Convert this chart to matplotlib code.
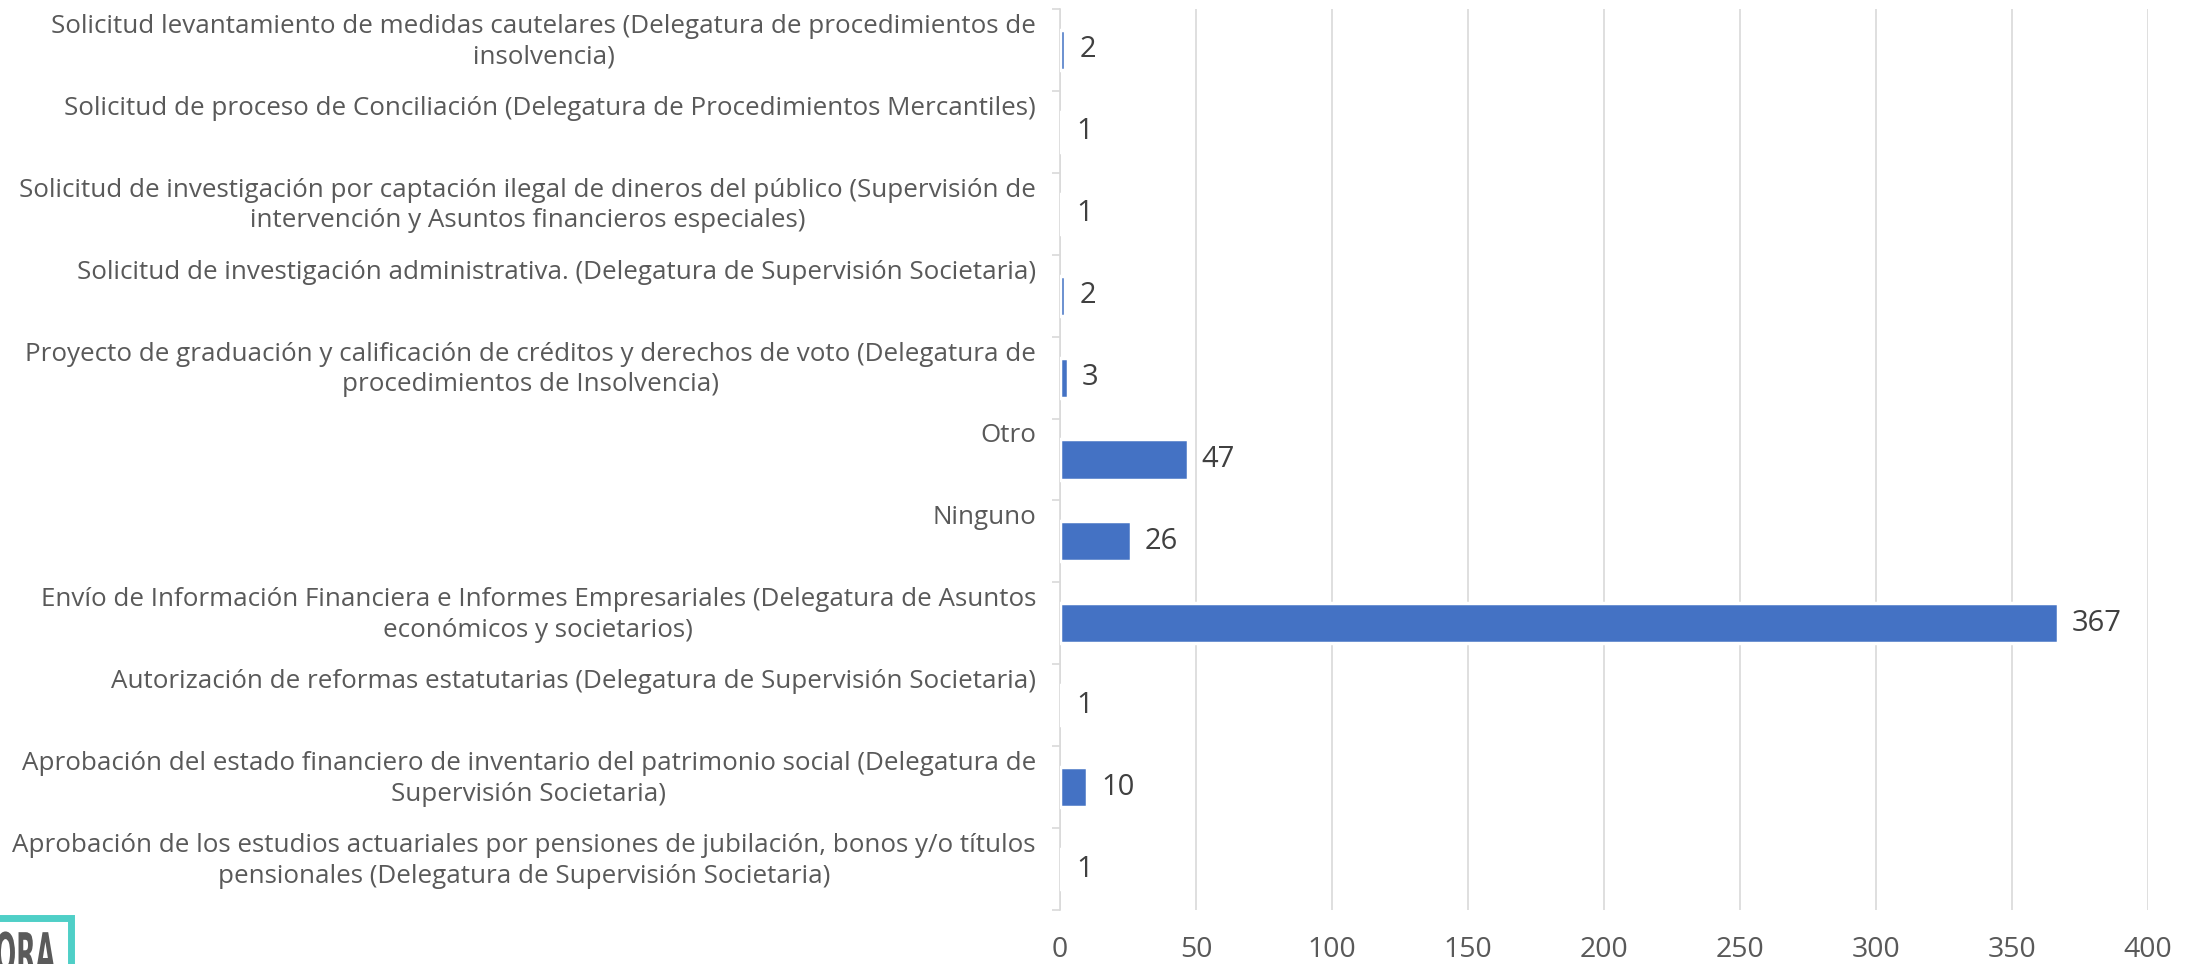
import matplotlib

matplotlib.use("Agg")
import matplotlib.pyplot as plt
from matplotlib.font_manager import FontProperties
from matplotlib.patches import PathPatch, Rectangle
from matplotlib.textpath import TextPath
from matplotlib.transforms import Affine2D, blended_transform_factory

# categories listed bottom to top, as the bars appear on the chart
categories = [
    "Aprobación de los estudios actuariales por pensiones de jubilación, bonos y/o títulos\npensionales (Delegatura de Supervisión Societaria)",
    "Aprobación del estado financiero de inventario del patrimonio social (Delegatura de\nSupervisión Societaria)",
    "Autorización de reformas estatutarias (Delegatura de Supervisión Societaria)",
    "Envío de Información Financiera e Informes Empresariales (Delegatura de Asuntos\neconómicos y societarios)",
    "Ninguno",
    "Otro",
    "Proyecto de graduación y calificación de créditos y derechos de voto (Delegatura de\nprocedimientos de Insolvencia)",
    "Solicitud de investigación administrativa. (Delegatura de Supervisión Societaria)",
    "Solicitud de investigación por captación ilegal de dineros del público (Supervisión de\nintervención y Asuntos financieros especiales)",
    "Solicitud de proceso de Conciliación (Delegatura de Procedimientos Mercantiles)",
    "Solicitud levantamiento de medidas cautelares (Delegatura de procedimientos de\ninsolvencia)",
]
counts = [1, 10, 1, 367, 26, 47, 3, 2, 1, 1, 2]
x_ticks = [0, 50, 100, 150, 200, 250, 300, 350, 400]

BAR_COLOR = "#4472C4"
GRID_COLOR = "#D9D9D9"
LABEL_COLOR = "#595959"
VALUE_COLOR = "#404040"
FONT = ["Open Sans", "DejaVu Sans"]

plt.rcParams["font.family"] = FONT

W, H = 2196, 964
fig = plt.figure(figsize=(W / 100, H / 100), dpi=100)
ax = fig.add_axes([1060 / W, 1 - 910 / H, 1088 / W, 901 / H])

ypos = list(range(len(categories)))
# thick white outline, as in the original: the 1-count bars vanish into it
ax.barh(ypos, counts, height=0.49, color=BAR_COLOR, edgecolor="white", linewidth=2.5, zorder=3)

for y, v in zip(ypos, counts):
    ax.annotate(str(v), (v, y), xytext=(10, 0), textcoords="offset points",
                ha="left", va="center", fontsize=21, color=VALUE_COLOR)

# category labels hang from the top of each band
trans = blended_transform_factory(fig.transFigure, ax.transData)
for y, lab in zip(ypos, categories):
    ax.text(1036 / W, y + 0.44, lab, transform=trans, ha="right", va="top",
            multialignment="center", fontsize=18.7, color=LABEL_COLOR, linespacing=1.3)

ax.set_xlim(0, 400)
ax.set_ylim(-0.5, len(categories) - 0.5)
ax.set_xticks(x_ticks)
ax.tick_params(axis="x", length=0, pad=19, labelsize=20.5, labelcolor=LABEL_COLOR)
ax.set_yticks([i - 0.5 for i in range(len(categories) + 1)])
ax.set_yticklabels([])
ax.tick_params(axis="y", length=6, width=1.2, color=GRID_COLOR)
ax.grid(axis="x", color=GRID_COLOR, linewidth=1.2, zorder=0)
for side in ["top", "right", "bottom"]:
    ax.spines[side].set_visible(False)
ax.spines["left"].set_color(GRID_COLOR)
ax.spines["left"].set_linewidth(1.2)

# partial logo in the bottom-left corner (cut by the image edge in the original)
fig.patches.append(Rectangle((-30 / W, -40 / H), 101 / W, (H - 917.5 + 40) / H, transform=fig.transFigure,
                             fill=False, edgecolor="#4FCFC7", linewidth=5))
logo = TextPath((0, 0), "ORA", size=56, prop=FontProperties(family="DejaVu Sans", weight="bold"))
logo_w = logo.get_extents().x1
sx = 0.45
fig.patches.append(PathPatch(logo, facecolor="#5A5A5A", edgecolor="none",
                             transform=Affine2D().scale(sx, 1).translate(55 - logo_w * sx, H - 932 - 41)))

fig.savefig("out.png", dpi=100)
